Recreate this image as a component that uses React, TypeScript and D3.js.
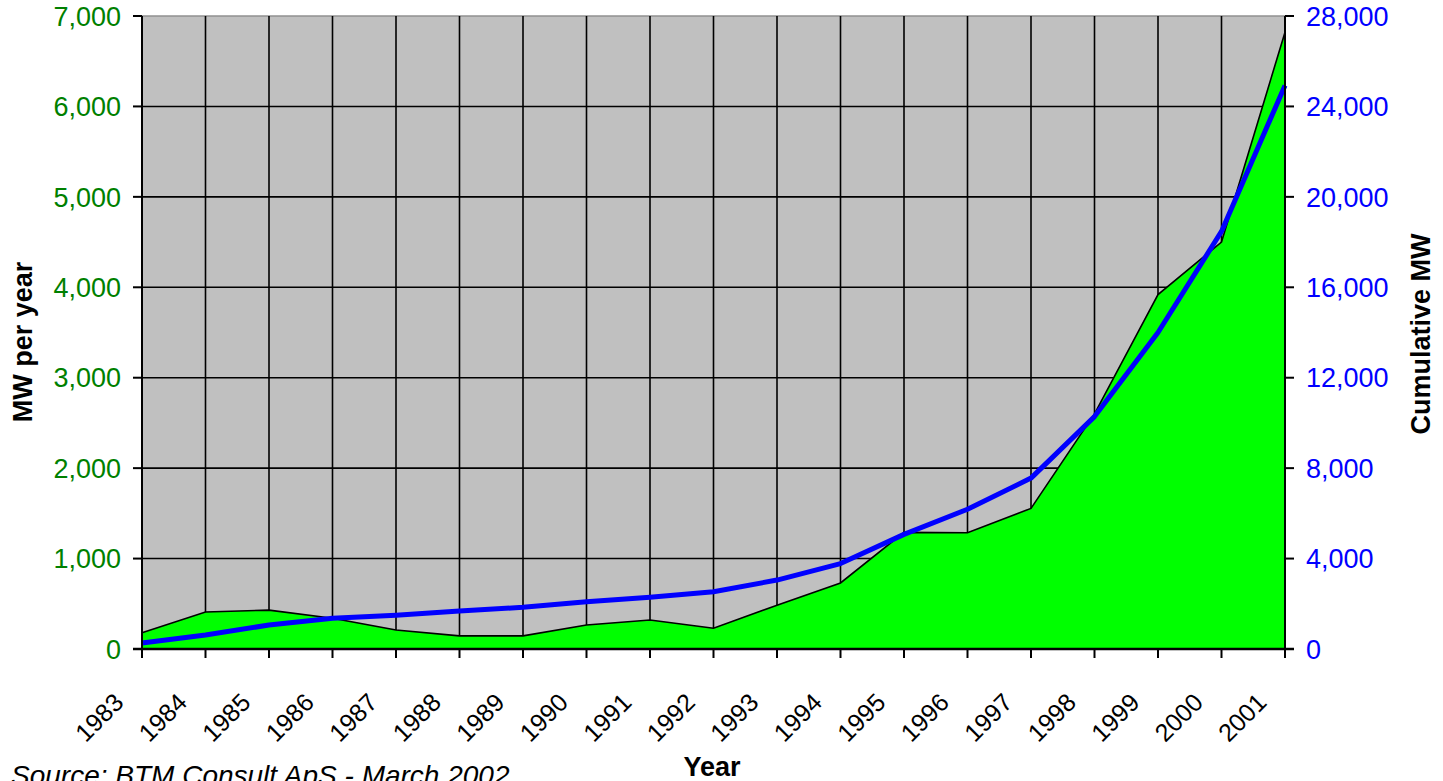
import React, {useEffect, useRef} from "react";
import * as d3 from "d3";

const years = ["1983", "1984", "1985", "1986", "1987", "1988", "1989", "1990", "1991", "1992",
    "1993", "1994", "1995", "1996", "1997", "1998", "1999", "2000", "2001"];
// MW installed each year (left axis)
const annualMW = [180, 410, 430, 340, 210, 145, 145, 265, 320, 230,
    485, 730, 1290, 1285, 1555, 2600, 3920, 4500, 6820];
// cumulative MW (right axis)
const cumulativeMW = [265, 620, 1060, 1360, 1490, 1680, 1845, 2095, 2285, 2535,
    3050, 3780, 5070, 6180, 7560, 10280, 14000, 18470, 24930];
const leftTicks = [0, 1000, 2000, 3000, 4000, 5000, 6000, 7000];
const rightTicks = [0, 4000, 8000, 12000, 16000, 20000, 24000, 28000];

const FONT = "Arial, 'Liberation Sans', sans-serif";

export default function App() {
    const ref = useRef<SVGSVGElement | null>(null);

    useEffect(() => {
        const width = 1443, height = 781;
        const plot = {left: 142, right: 1285, top: 16, bottom: 649};

        const x = d3.scalePoint<string>().domain(years).range([plot.left, plot.right]);
        const yL = d3.scaleLinear().domain([0, 7000]).range([plot.bottom, plot.top]);
        const yR = d3.scaleLinear().domain([0, 28000]).range([plot.bottom, plot.top]);
        const fmt = d3.format(",");

        const svg = d3.select(ref.current);
        svg.selectAll("*").remove();
        svg.attr("width", width).attr("height", height);

        // plot background
        svg.append("rect")
            .attr("x", plot.left).attr("y", plot.top)
            .attr("width", plot.right - plot.left).attr("height", plot.bottom - plot.top)
            .attr("fill", "#c0c0c0");

        // grid
        svg.append("g").selectAll("line").data(leftTicks.filter(t => t > 0 && t < 7000)).enter()
            .append("line")
            .attr("x1", plot.left).attr("x2", plot.right)
            .attr("y1", d => yL(d)).attr("y2", d => yL(d))
            .attr("stroke", "#000").attr("stroke-width", 1.6);
        svg.append("line")
            .attr("x1", plot.left).attr("x2", plot.right)
            .attr("y1", yL(7000)).attr("y2", yL(7000))
            .attr("stroke", "#909090").attr("stroke-width", 1.5);
        svg.append("g").selectAll("line").data(years.slice(1, -1)).enter()
            .append("line")
            .attr("x1", d => x(d)!).attr("x2", d => x(d)!)
            .attr("y1", plot.top).attr("y2", plot.bottom)
            .attr("stroke", "#000").attr("stroke-width", 1.6);

        // annual area
        const area = d3.area<number>()
            .x((d, i) => x(years[i])!)
            .y0(plot.bottom)
            .y1(d => yL(d));
        const topLine = d3.line<number>()
            .x((d, i) => x(years[i])!)
            .y(d => yL(d));
        svg.append("path").attr("d", area(annualMW)!).attr("fill", "#00ff00");
        svg.append("path").attr("d", topLine(annualMW)!)
            .attr("fill", "none").attr("stroke", "#000").attr("stroke-width", 1.6);

        // cumulative line
        const cumLine = d3.line<number>()
            .x((d, i) => x(years[i])!)
            .y(d => yR(d));
        svg.append("path").attr("d", cumLine(cumulativeMW)!)
            .attr("fill", "none").attr("stroke", "#0000ff").attr("stroke-width", 5)
            .attr("stroke-linejoin", "round");

        // axes lines
        const axisG = svg.append("g").attr("stroke", "#000");
        axisG.append("line").attr("x1", plot.left).attr("x2", plot.left)
            .attr("y1", plot.top).attr("y2", plot.bottom).attr("stroke-width", 2);
        axisG.append("line").attr("x1", plot.right).attr("x2", plot.right)
            .attr("y1", plot.top).attr("y2", plot.bottom).attr("stroke-width", 2);
        axisG.append("line").attr("x1", plot.left - 9).attr("x2", plot.right + 9)
            .attr("y1", plot.bottom).attr("y2", plot.bottom).attr("stroke-width", 2.5);

        // left ticks
        axisG.selectAll(".lt").data(leftTicks).enter().append("line")
            .attr("x1", plot.left - 9).attr("x2", plot.left)
            .attr("y1", d => yL(d)).attr("y2", d => yL(d)).attr("stroke-width", 2);
        svg.append("g").selectAll("text").data(leftTicks).enter().append("text")
            .attr("x", 121).attr("y", d => yL(d)).attr("dy", "0.36em")
            .attr("text-anchor", "end").attr("fill", "#008000")
            .style("font", `27px ${FONT}`)
            .text(d => fmt(d));

        // right ticks
        axisG.selectAll(".rt").data(rightTicks).enter().append("line")
            .attr("x1", plot.right).attr("x2", plot.right + 9)
            .attr("y1", d => yR(d)).attr("y2", d => yR(d)).attr("stroke-width", 2);
        svg.append("g").selectAll("text").data(rightTicks).enter().append("text")
            .attr("x", 1306).attr("y", d => yR(d)).attr("dy", "0.36em")
            .attr("text-anchor", "start").attr("fill", "#0000ff")
            .style("font", `27px ${FONT}`)
            .text(d => fmt(d));

        // bottom ticks + rotated year labels
        axisG.selectAll(".bt").data(years).enter().append("line")
            .attr("x1", d => x(d)!).attr("x2", d => x(d)!)
            .attr("y1", plot.bottom).attr("y2", plot.bottom + 9).attr("stroke-width", 2);
        svg.append("g").selectAll("text").data(years).enter().append("text")
            .attr("transform", d => `translate(${x(d)! - 17},704) rotate(-45)`)
            .attr("text-anchor", "end").attr("fill", "#000")
            .style("font", `25px ${FONT}`)
            .text(d => d);

        // axis titles
        svg.append("text")
            .attr("transform", "translate(32,342) rotate(-90)")
            .attr("text-anchor", "middle")
            .style("font", `bold 27px ${FONT}`)
            .text("MW per year");
        svg.append("text")
            .attr("transform", "translate(1430,334) rotate(-90)")
            .attr("text-anchor", "middle")
            .style("font", `bold 27px ${FONT}`)
            .text("Cumulative MW");
        svg.append("text")
            .attr("x", 712).attr("y", 776)
            .attr("text-anchor", "middle")
            .style("font", `bold 27px ${FONT}`)
            .text("Year");

        svg.append("text")
            .attr("x", 11).attr("y", 785)
            .style("font", `italic 28px ${FONT}`)
            .text("Source: BTM Consult ApS - March 2002");
    }, []);

    return <svg ref={ref} width={1443} height={781}
                style={{position: "absolute", left: 0, top: 0, display: "block", overflow: "hidden", background: "#fff"}}/>;
}
